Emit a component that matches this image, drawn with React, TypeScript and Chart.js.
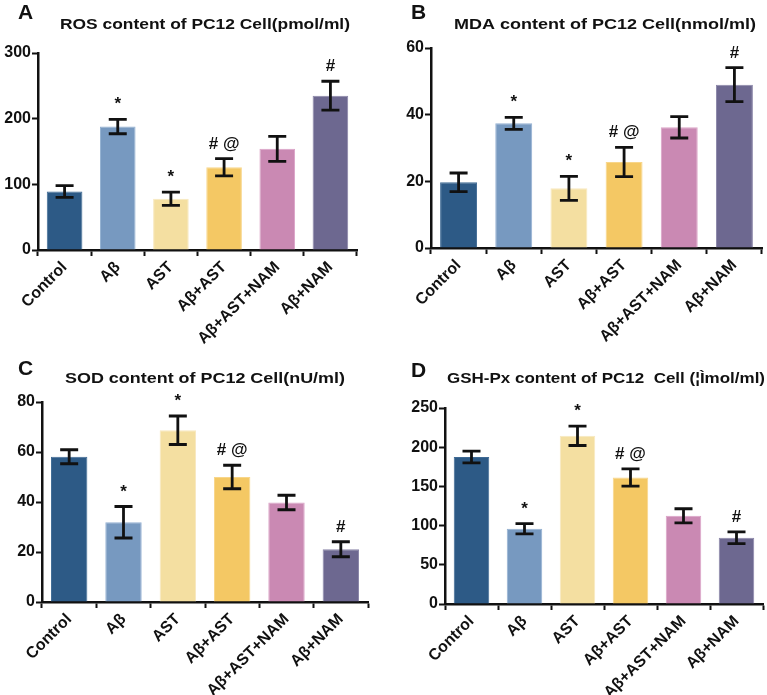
import React, { useEffect, useRef } from "react";
import { Chart, registerables } from "chart.js";

Chart.register(...registerables);

const categories = ["Control", "Aβ", "AST", "Aβ+AST", "Aβ+AST+NAM", "Aβ+NAM"];
const barColors = ["#2d5a86", "#7799c0", "#f4dfa1", "#f4c864", "#ca89b3", "#6d6890"];
const barEdges = ["#3f6a94", "#93b0d2", "#f8e9c0", "#f8d68a", "#dba3c7", "#8a85a8"];

const rosMeans = [89, 188, 78, 126, 154, 235];
const rosErrors = [9, 11, 10, 13, 19, 22];
const mdaMeans = [19.7, 37.4, 17.9, 25.8, 36.2, 49];
const mdaErrors = [2.8, 1.8, 3.6, 4.4, 3.2, 5.1];
const sodMeans = [58.1, 31.9, 68.7, 50, 39.8, 21.1];
const sodErrors = [2.8, 6.3, 5.7, 4.7, 2.9, 3.0];
const gshMeans = [187.6, 96, 214.5, 161.3, 112.5, 84.5];
const gshErrors = [7.5, 6.5, 12.3, 11, 9, 7.5];
const significance = ["", "*", "*", "# @", "", "#"];

const yMaxes = [300, 60, 80, 250];
const ySteps = [100, 20, 20, 50];
const titles = [
  "ROS content of PC12 Cell(pmol/ml)",
  "MDA content of PC12 Cell(nmol/ml)",
  "SOD content of PC12 Cell(nU/ml)",
  "GSH-Px content of PC12  Cell (¦Ìmol/ml)",
];
const letters = ["A", "B", "C", "D"];

const FONT = "'Liberation Sans', Arial, Helvetica, sans-serif";

const panels = [
  { means: rosMeans, errors: rosErrors, box: { left: 0, top: 0, w: 384, h: 345 }, area: { left: 38, right: 357, top: 53, bottom: 250 }, titleX: 60, titleW: 290, titleY: 29, letterX: 18, letterY: 19 },
  { means: mdaMeans, errors: mdaErrors, box: { left: 384, top: 0, w: 383, h: 345 }, area: { left: 47, right: 378, top: 48, bottom: 248 }, titleX: 70, titleW: 302, titleY: 29, letterX: 27, letterY: 19 },
  { means: sodMeans, errors: sodErrors, box: { left: 0, top: 345, w: 384, h: 350 }, area: { left: 42, right: 368, top: 57, bottom: 257 }, titleX: 65, titleW: 280, titleY: 38, letterX: 18, letterY: 30 },
  { means: gshMeans, errors: gshErrors, box: { left: 384, top: 345, w: 383, h: 350 }, area: { left: 61, right: 379, top: 63, bottom: 259 }, titleX: 63, titleW: 318, titleY: 38, letterX: 27, letterY: 32 },
];

const decorPlugin = {
  id: "decor",
  afterDatasetsDraw(chart: any, _args: any, opts: any) {
    const ctx = chart.ctx;
    const meta = chart.getDatasetMeta(0);
    const y = chart.scales.y;
    ctx.save();
    ctx.strokeStyle = "#111";
    ctx.lineWidth = 2.8;
    ctx.lineCap = "butt";
    opts.means.forEach((m: number, i: number) => {
      const x = meta.data[i].x;
      const yt = y.getPixelForValue(m + opts.errors[i]);
      const yb = y.getPixelForValue(m - opts.errors[i]);
      ctx.beginPath();
      ctx.moveTo(x, yt);
      ctx.lineTo(x, yb);
      ctx.moveTo(x - 9, yt);
      ctx.lineTo(x + 9, yt);
      ctx.moveTo(x - 9, yb);
      ctx.lineTo(x + 9, yb);
      ctx.stroke();
      const s = opts.labels[i];
      if (s) {
        ctx.fillStyle = "#111";
        ctx.font = `bold 17px ${FONT}`;
        ctx.textAlign = "center";
        ctx.textBaseline = "alphabetic";
        ctx.fillText(s, x, yt - 10);
      }
    });
    ctx.fillStyle = "#111";
    ctx.textBaseline = "alphabetic";
    ctx.font = `bold 15.5px ${FONT}`;
    ctx.textAlign = "left";
    const w = ctx.measureText(opts.title).width;
    ctx.save();
    ctx.translate(opts.titleX, opts.titleY);
    ctx.scale(opts.titleW / w, 1);
    ctx.fillText(opts.title, 0, 0);
    ctx.restore();
    ctx.font = `bold 21px ${FONT}`;
    ctx.textAlign = "left";
    ctx.fillText(opts.letter, opts.letterX, opts.letterY);
    ctx.restore();
  },
};

function Panel({ index }: { index: number }) {
  const ref = useRef<HTMLCanvasElement>(null);
  const p = panels[index];
  useEffect(() => {
    if (!ref.current) return;
    const chart = new Chart(ref.current, {
      type: "bar",
      data: {
        labels: categories,
        datasets: [
          {
            data: p.means,
            backgroundColor: barColors,
            borderColor: barEdges,
            borderWidth: 1,
            categoryPercentage: 1,
            barPercentage: 0.67,
          },
        ],
      },
      options: {
        responsive: false,
        animation: false,
        devicePixelRatio: 1,
        layout: { padding: { left: 0, right: p.box.w - p.area.right, top: p.area.top, bottom: 0 } },
        plugins: {
          legend: { display: false },
          tooltip: { enabled: false },
          decor: {
            means: p.means,
            errors: p.errors,
            labels: significance,
            title: titles[index],
            letter: letters[index],
            titleX: p.titleX,
            titleW: p.titleW,
            titleY: p.titleY,
            letterX: p.letterX,
            letterY: p.letterY,
          },
        } as any,
        scales: {
          x: {
            grid: { drawOnChartArea: false, drawTicks: true, tickLength: 6, tickColor: "#111", tickWidth: 2 },
            border: { color: "#111", width: 2.5 },
            ticks: {
              autoSkip: false,
              minRotation: 45,
              maxRotation: 45,
              color: "#111",
              padding: 2,
              font: { family: FONT, size: 16, weight: "bold" },
            },
            afterFit: (scale: any) => {
              scale.height = p.box.h - p.area.bottom;
            },
          },
          y: {
            min: 0,
            max: yMaxes[index],
            grid: { drawOnChartArea: false, drawTicks: true, tickLength: 6, tickColor: "#111", tickWidth: 2 },
            border: { color: "#111", width: 2.5 },
            ticks: {
              stepSize: ySteps[index],
              color: "#111",
              padding: 1,
              font: { family: FONT, size: 16, weight: "bold" },
            },
            afterFit: (scale: any) => {
              scale.width = p.area.left;
            },
          },
        },
      },
      plugins: [decorPlugin],
    } as any);
    return () => chart.destroy();
  }, [index]);
  return (
    <canvas
      ref={ref}
      width={p.box.w}
      height={p.box.h}
      style={{ position: "absolute", left: p.box.left, top: p.box.top, width: p.box.w, height: p.box.h }}
    />
  );
}

export default function App() {
  return (
    <div style={{ position: "absolute", left: 0, top: 0, width: 767, height: 695, background: "#fff" }}>
      {panels.map((_, i) => (
        <Panel key={i} index={i} />
      ))}
    </div>
  );
}
